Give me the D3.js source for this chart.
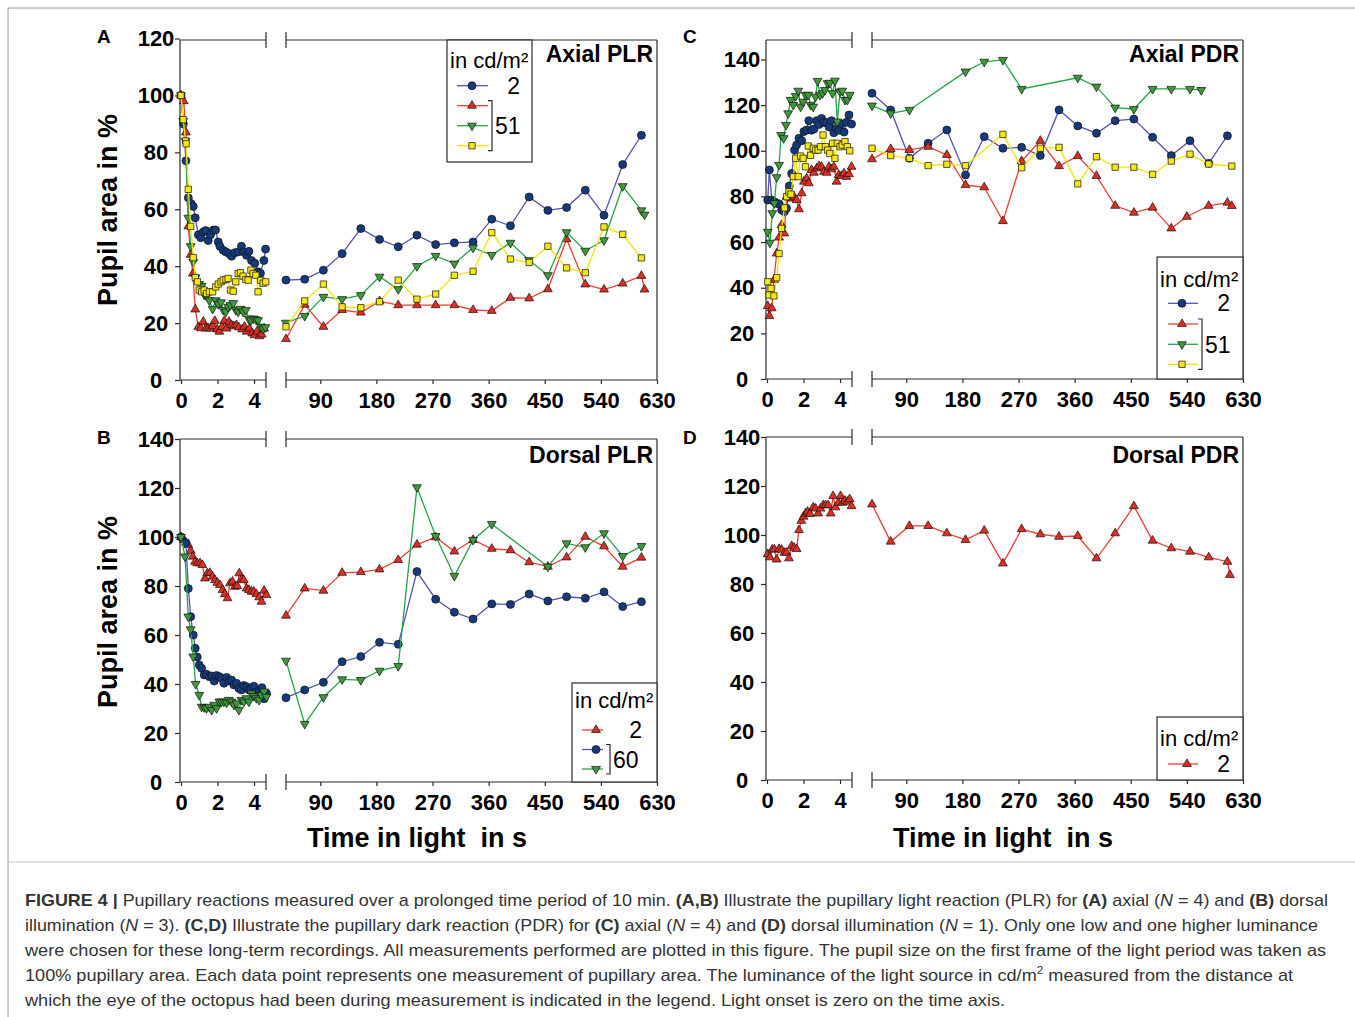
<!DOCTYPE html>
<html>
<head>
<meta charset="utf-8">
<script src="https://d3js.org/d3.v7.min.js"></script>
<style>
  body { margin: 0; background: #fff; }
  svg text { font-family: "Liberation Sans", Arial, Helvetica, sans-serif; }
</style>
</head>
<body>
<svg id="fig" width="1355" height="1017"></svg>
<script>
// ---- data: [time in s, pupil area in %] ----
// A: axial PLR
var aBlueL = [[0,100],[0.13,90],[0.27,77],[0.4,64],[0.55,62],[0.67,61],[0.78,57],[0.95,51],[1.08,50],[1.22,52],[1.35,52.5],[1.49,49],[1.62,51],[1.77,52.7],[1.89,52.7],[2.04,48.5],[2.13,47],[2.31,45.6],[2.46,45],[2.64,44.4],[2.77,43.5],[2.95,44.7],[3.13,45],[3.31,47],[3.44,45],[3.59,43.8],[3.72,45.2],[3.86,42],[4.04,41],[4.22,38],[4.35,37.5],[4.54,42],[4.63,46]];
var aRedL = [[0,100],[0.15,98],[0.27,87],[0.4,54],[0.53,44],[0.65,37.4],[0.78,24.8],[0.95,18.7],[1.08,18.2],[1.22,20.5],[1.35,18.1],[1.48,18.2],[1.6,18.1],[1.73,18.9],[1.85,20.8],[1.98,17.8],[2.1,17],[2.24,18.7],[2.37,20.8],[2.5,18.1],[2.63,20.5],[2.77,19.3],[2.9,18.9],[3.04,19.3],[3.17,18.5],[3.35,17.8],[3.48,18.7],[3.6,17],[3.75,18.1],[3.9,16.4],[4.02,15.8],[4.16,17],[4.3,15.4],[4.42,16],[4.55,18.1]];
var aGreenL = [[0,100],[0.12,91],[0.25,84],[0.4,57],[0.53,47],[0.67,41.5],[0.8,36],[1.0,33.7],[1.13,33],[1.27,30],[1.4,29.5],[1.55,28],[1.73,25],[1.9,28],[2.04,26.7],[2.19,27.3],[2.31,24.6],[2.46,24],[2.58,25.7],[2.71,26.3],[2.86,27],[3.0,24.6],[3.13,24],[3.26,25],[3.4,24],[3.55,24.6],[3.7,21.6],[3.83,21],[3.97,21.6],[4.1,21.3],[4.22,21],[4.37,18.7],[4.5,18],[4.62,18.5]];
var aYellowL = [[0,100],[0.12,91.5],[0.25,84],[0.28,83],[0.4,67],[0.53,54],[0.67,43],[0.78,36],[0.9,34.5],[1.0,31.6],[1.13,31],[1.27,31.6],[1.4,30.4],[1.55,31],[1.73,31],[1.9,32.7],[2.04,33.7],[2.19,34.5],[2.31,35.1],[2.46,35.3],[2.58,35.7],[2.71,31.6],[2.86,31.2],[3.0,34.5],[3.13,37.4],[3.26,37.7],[3.4,36.5],[3.55,35.3],[3.68,35.1],[3.83,38.6],[3.95,37.4],[4.1,36.8],[4.22,31],[4.37,35],[4.5,34],[4.64,34.5]];
var aBlueR = [[35,35.1],[65,35.4],[95,38.6],[125,44.4],[155,53.2],[185,49.4],[215,46.8],[245,50.9],[275,47.6],[305,48.2],[335,48.5],[365,56.5],[395,54.2],[425,64.3],[455,59.6],[485,60.6],[515,66.7],[545,57.9],[575,75.7],[605,86]];
var aRedR = [[35,14.4],[65,26.5],[95,18.7],[125,24.6],[155,23.7],[185,27.7],[215,26.3],[245,26.3],[275,26.3],[305,26.3],[335,24.6],[365,24.3],[395,28.9],[425,28.7],[455,31.9],[485,49.5],[515,33.6],[545,31.8],[575,33.9],[605,36.6],[610,31.8]];
var aGreenR = [[35,20.1],[65,22.5],[95,29.2],[125,28.4],[155,29.8],[185,36.3],[215,31.9],[245,40],[275,43.6],[305,40.9],[335,46.5],[365,43.9],[395,48.2],[425,42.1],[455,36.8],[485,51.9],[515,45.4],[545,49.1],[575,68.1],[605,59.6],[610,58.1]];
var aYellowR = [[35,18.7],[65,27.8],[95,33.7],[125,25.7],[155,25.4],[185,27.5],[215,35.1],[245,28.4],[275,30.2],[305,36.8],[335,38.2],[365,51.8],[395,42.5],[425,41.3],[455,47],[485,39.4],[515,37.7],[545,53.8],[575,51.2],[605,42.9]];

// B: dorsal PLR
var bRedL = [[0,100],[0.16,98.8],[0.27,97.7],[0.4,96.7],[0.53,94.4],[0.64,92],[0.77,89.9],[0.89,89.3],[1.04,89.3],[1.17,88.6],[1.31,83.1],[1.44,85.2],[1.58,85.4],[1.73,83.8],[1.86,82.4],[2.0,81.3],[2.13,80.4],[2.28,78.4],[2.4,76.7],[2.55,75],[2.68,81.1],[2.82,81.8],[2.95,79.7],[3.08,80],[3.19,85.2],[3.32,82.7],[3.44,82.4],[3.59,79],[3.72,78.4],[3.86,77.7],[3.99,77.7],[4.13,76.7],[4.28,75.4],[4.41,73.6],[4.55,78.1],[4.68,76.3]];
var bBlueL = [[0,100],[0.27,97.7],[0.4,79],[0.53,67.5],[0.67,60],[0.78,54.6],[0.89,51],[1.0,47.8],[1.13,46.4],[1.27,43.7],[1.4,44],[1.55,43],[1.68,43.3],[1.82,41.2],[1.95,43.5],[2.1,43],[2.22,42.3],[2.35,40.3],[2.5,42.7],[2.62,41.2],[2.77,41.6],[2.9,39.6],[3.04,40.3],[3.17,38.2],[3.31,37.6],[3.44,39.4],[3.59,38.9],[3.72,37.6],[3.86,38.2],[3.99,39.1],[4.13,36.9],[4.28,37.3],[4.43,38.5],[4.55,34],[4.68,36.2]];
var bGreenL = [[0,100],[0.22,92],[0.4,67.5],[0.53,62.3],[0.67,51.2],[0.8,40],[1.0,35.5],[1.13,30.7],[1.27,30.5],[1.4,30.1],[1.55,30.7],[1.68,29.4],[1.82,31.5],[1.95,30.1],[2.1,32.8],[2.22,32.8],[2.35,32.8],[2.5,32.4],[2.62,33.5],[2.77,32.8],[2.9,31.5],[3.04,32.1],[3.17,29.4],[3.31,33.5],[3.44,32.8],[3.59,34.2],[3.72,32.8],[3.86,36.2],[3.99,35.1],[4.13,34.2],[4.28,33.5],[4.41,35.5],[4.55,36.9],[4.68,34.8]];
var bRedR = [[35,67.9],[65,79],[95,78.1],[125,85.4],[155,85.7],[185,86.8],[215,90.6],[245,96.9],[275,99.9],[305,94.1],[335,98.8],[365,95.2],[395,94.6],[425,89.7],[455,87.9],[485,91.7],[515,100.1],[545,96.2],[575,87.9],[605,91.6]];
var bBlueR = [[35,34.4],[65,37.6],[95,40.7],[125,49.1],[155,51.2],[185,57],[215,56.2],[245,85.9],[275,74.6],[305,69.3],[335,66.5],[365,72.7],[395,72.5],[425,76.7],[455,73.9],[485,75.6],[515,75],[545,77.6],[575,71.6],[605,73.6]];
var bGreenR = [[35,49.5],[65,23.7],[95,34.6],[125,41.9],[155,41.6],[185,45.4],[215,47.3],[245,120.3],[275,100.4],[305,84.1],[335,98.8],[365,105.3],[455,87.9],[485,97.4],[515,95.8],[545,101.5],[575,92.2],[605,96.3]];

// C: axial PDR
var cBlueL = [[0.04,78.4],[0.13,91.6],[0.26,78.4],[0.4,77.7],[0.53,77],[0.67,76.7],[0.8,74.1],[0.95,73.3],[1.07,74.8],[1.22,84.6],[1.35,90],[1.51,100.3],[1.62,102.5],[1.75,105.5],[1.9,104.4],[2.02,108.4],[2.17,109.1],[2.29,113.2],[2.44,109],[2.57,109.5],[2.72,113.2],[2.85,111.5],[2.99,114.2],[3.12,112.4],[3.27,112.4],[3.4,110.4],[3.53,113.2],[3.66,107.9],[3.8,109.8],[3.93,109],[4.08,111.8],[4.22,108.2],[4.35,112.5],[4.49,115.7],[4.63,111.7]];
var cRedL = [[0.04,32],[0.13,27.6],[0.26,31],[0.38,43.4],[0.53,55],[0.66,62],[0.8,67.5],[0.95,63.8],[1.07,79.9],[1.22,79.2],[1.35,79.2],[1.48,79.9],[1.62,78.4],[1.75,74.4],[1.9,81.4],[2.02,86.5],[2.17,87.9],[2.29,85.8],[2.44,91.6],[2.57,90.4],[2.72,92.3],[2.85,93.3],[2.99,93],[3.12,90.8],[3.27,90.4],[3.4,93],[3.53,91.9],[3.66,93],[3.81,86.5],[3.93,89.4],[4.08,89],[4.22,90.1],[4.35,88.6],[4.49,89.8],[4.63,93]];
var cGreenL = [[0.04,64.5],[0.16,59.7],[0.29,72.6],[0.4,77],[0.53,88.4],[0.66,93.8],[0.77,106.9],[0.91,105.5],[1.04,111.3],[1.16,116.4],[1.29,122.3],[1.44,120.1],[1.57,124],[1.71,126.3],[1.84,119.3],[1.98,121.5],[2.11,124.5],[2.26,124.5],[2.39,120.1],[2.53,119.3],[2.66,123.7],[2.77,130.6],[2.9,124.5],[3.04,125.2],[3.17,126.6],[3.32,129.6],[3.44,129.8],[3.59,125.2],[3.72,130.7],[3.85,112.8],[4.0,125.9],[4.12,126.3],[4.27,122.3],[4.4,122.3],[4.53,124.5]];
var cYellowL = [[0.04,42.6],[0.11,36.8],[0.22,39.7],[0.38,36.4],[0.53,44.4],[0.66,55],[0.8,66],[0.95,75],[1.07,79.9],[1.2,82],[1.31,81],[1.44,88.7],[1.57,96.7],[1.71,88.7],[1.84,97.7],[1.98,96.7],[2.11,93],[2.26,102.1],[2.39,98],[2.53,101.1],[2.66,100.3],[2.8,100.3],[2.93,101.8],[3.07,106.9],[3.2,101.8],[3.32,100.3],[3.44,98.8],[3.59,103.3],[3.72,96.7],[3.85,103.3],[4.0,101.8],[4.12,102.5],[4.27,104],[4.4,101.8],[4.53,100]];
var cBlueR = [[35,125.2],[65,117.9],[95,96.7],[125,103.3],[155,109.1],[185,89.4],[215,106.2],[245,101.1],[275,101.5],[305,97.9],[335,117.9],[365,110.9],[395,107.7],[425,113.2],[455,113.9],[485,105.9],[515,97.9],[545,104.4],[575,94.5],[605,106.6]];
var cRedR = [[35,96.3],[65,100.8],[95,100.4],[125,101.8],[155,98.2],[185,85],[215,84],[245,69.2],[275,95.5],[305,104.4],[335,93.3],[365,97.7],[395,89],[425,75.9],[455,72.9],[485,75.1],[515,66],[540,71.1],[575,75.9],[605,77.3],[612,75.8]];
var cGreenR = [[35,119.8],[65,116.4],[95,117.9],[185,134.7],[215,139],[245,139.8],[275,127.1],[365,132],[395,128.1],[425,118.9],[455,118.3],[485,127.1],[515,127.1],[545,127.1],[563,126.6]];
var cYellowR = [[35,101.1],[65,97.9],[95,96.7],[125,93.5],[155,94.1],[185,93.5],[245,107.2],[275,92.6],[305,101.1],[335,101.5],[365,85.5],[395,97.4],[425,92.8],[455,92.8],[485,89.7],[515,95.5],[545,98.5],[575,94.2],[612,93.3]];

// D: dorsal PDR
var dRedL = [[0.04,92.2],[0.16,90.9],[0.29,94.1],[0.4,94.1],[0.53,90],[0.66,94.3],[0.8,94],[0.95,92.8],[1.07,92.8],[1.2,90.5],[1.35,95.5],[1.48,94.8],[1.62,94.3],[1.75,102],[1.88,105.8],[2.0,107.5],[2.11,108.8],[2.22,109.5],[2.35,108.6],[2.53,111.3],[2.66,110.8],[2.8,108.8],[2.93,110.8],[3.08,112.2],[3.21,112.2],[3.35,112.2],[3.49,108.8],[3.62,115.9],[3.75,111.3],[3.9,113.2],[4.03,115.9],[4.14,113.2],[4.27,114],[4.4,113.6],[4.53,114.6],[4.63,111.8]];
var dRedR = [[35,112.5],[65,97.3],[95,103.7],[125,103.7],[155,100.7],[185,98],[215,101.8],[245,88.4],[275,102.4],[305,100.3],[335,99.3],[365,99.6],[395,90.5],[425,100.7],[455,111.8],[485,97.7],[515,94.6],[545,93.2],[575,90.9],[605,89.1],[609,83.7]];

// ticks
var leftTicks = [0, 2, 4];
var rightTicks = [90, 180, 270, 360, 450, 540, 630];
var yTicksA = [0, 20, 40, 60, 80, 100, 120];
var yTicks140 = [0, 20, 40, 60, 80, 100, 120, 140];

var styles = {
  blue:   {line: '#5454b6', fill: '#153a7c', sym: 'circle'},
  red:    {line: '#f03e31', fill: '#df2d22', sym: 'up'},
  green:  {line: '#22a646', fill: '#3e9a38', sym: 'down'},
  yellow: {line: '#f4e400', fill: '#f6e70f', sym: 'square'}
};

var svg = d3.select('#fig');
var AX = '#2a2a2a';
var fmt = d3.format('d');

function drawMarker(g, s, x, y) {
  var st = styles[s];
  if (st.sym == 'circle') {
    g.append('circle').attr('cx', x).attr('cy', y).attr('r', 4)
      .attr('fill', st.fill).attr('stroke', '#111').attr('stroke-width', 0.7);
    return;
  }
  var type = st.sym == 'square' ? d3.symbolSquare : d3.symbolTriangle;
  var size = st.sym == 'square' ? 40 : 34;
  var rot = st.sym == 'down' ? 180 : 0;
  g.append('path').attr('d', d3.symbol().type(type).size(size)())
    .attr('transform', 'translate(' + x + ',' + y + ') rotate(' + rot + ')')
    .attr('fill', st.fill).attr('stroke', '#111').attr('stroke-width', 0.7);
}

function drawSeries(g, data, s, xs, ys) {
  var line = d3.line().x(function(d) { return xs(d[0]); }).y(function(d) { return ys(d[1]); });
  g.append('path').datum(data).attr('d', line).attr('fill', 'none')
    .attr('stroke', styles[s].line).attr('stroke-width', 1.3);
  var mg = g.append('g');
  data.forEach(function(d) { drawMarker(mg, s, xs(d[0]), ys(d[1])); });
}

function hline(g, x1, x2, y) {
  g.append('line').attr('x1', x1).attr('x2', x2).attr('y1', y).attr('y2', y)
    .attr('stroke', AX).attr('stroke-width', 1.2);
}
function vline(g, x, y1, y2) {
  g.append('line').attr('x1', x).attr('x2', x).attr('y1', y1).attr('y2', y2)
    .attr('stroke', AX).attr('stroke-width', 1.2);
}

function drawPanel(p) {
  var g = svg.append('g');
  var xL = d3.scaleLinear().domain([0, 4.6]).range([181 + p.dx, 265 + p.dx]);
  var xR = d3.scaleLinear().domain([35, 630]).range([286 + p.dx, 657 + p.dx]);
  var y = d3.scaleLinear().domain([0, p.yMax]).range([p.y0, p.yTop]);
  var top = p.frameTop, bot = p.y0;

  // frame with axis break
  vline(g, 180 + p.dx, top, bot);
  vline(g, 657 + p.dx, top, bot);
  hline(g, 180 + p.dx, 266 + p.dx, top);
  hline(g, 286 + p.dx, 657 + p.dx, top);
  hline(g, 180 + p.dx, 266 + p.dx, bot);
  hline(g, 286 + p.dx, 657 + p.dx, bot);
  [266, 286].forEach(function(bx) {
    vline(g, bx + p.dx, top - 8, top + 8);
    vline(g, bx + p.dx, bot - 8, bot + 8);
  });

  // y axis, labels centred in the margin
  var ya = g.append('g').attr('transform', 'translate(' + (180 + p.dx) + ',0)')
    .call(d3.axisLeft(y).tickValues(p.yTicks).tickSize(5).tickPadding(1).tickFormat(fmt));
  ya.selectAll('text').attr('text-anchor', 'middle').attr('x', -24);
  // x axes
  var xa1 = g.append('g').attr('transform', 'translate(0,' + bot + ')')
    .call(d3.axisBottom(xL).tickValues(leftTicks).tickSize(4).tickPadding(8).tickFormat(fmt));
  var xa2 = g.append('g').attr('transform', 'translate(0,' + bot + ')')
    .call(d3.axisBottom(xR).tickValues(rightTicks).tickSize(4).tickPadding(8).tickFormat(fmt));
  [ya, xa1, xa2].forEach(function(a) {
    a.select('.domain').remove();
    a.selectAll('line').attr('stroke', AX).attr('stroke-width', 1.2);
    a.selectAll('text').attr('font-size', 22).attr('font-weight', 'bold').attr('fill', '#000')
      .style('font-family', '"Liberation Sans", Arial, sans-serif');
  });

  // series
  p.series.forEach(function(s) {
    drawSeries(g, s.left, s.c, xL, y);
    drawSeries(g, s.right, s.c, xR, y);
  });

  // panel letter
  g.append('text').attr('x', 97 + p.dx).attr('y', p.letterY)
    .attr('font-size', 19).attr('font-weight', 'bold').text(p.letter);

  // legend
  var L = p.legend;
  g.append('rect').attr('x', L.x).attr('y', L.y).attr('width', L.w).attr('height', L.h)
    .attr('fill', '#fff').attr('stroke', AX).attr('stroke-width', 1.2);
  g.append('text').attr('x', L.x + 3).attr('y', L.textY).attr('font-size', 22).text('in cd/m²');
  L.items.forEach(function(it, i) {
    var ry = L.rows[i];
    g.append('line').attr('x1', L.x + L.l1).attr('x2', L.x + L.l2).attr('y1', ry).attr('y2', ry)
      .attr('stroke', styles[it].line).attr('stroke-width', 1.3);
    drawMarker(g, it, L.x + L.mk, ry);
  });
  g.append('text').attr('x', L.x + L.numX).attr('y', L.rows[0] + 8).attr('text-anchor', 'end')
    .attr('font-size', 23).text(L.single);
  if (L.group) {
    var r0 = L.rows[L.group.from] - 5, r1 = L.rows[L.group.to] + 5;
    var bx = L.x + L.brX;
    g.append('path').attr('d', 'M' + (bx - 4) + ',' + r0 + 'H' + bx + 'V' + r1 + 'H' + (bx - 4))
      .attr('fill', 'none').attr('stroke', AX).attr('stroke-width', 1.2);
    g.append('text').attr('x', bx + 3).attr('y', (r0 + r1) / 2 + 8.5)
      .attr('font-size', 23).text(L.group.label);
  }

  // panel title
  g.append('text').attr('x', 653 + p.dx).attr('y', p.titleY).attr('text-anchor', 'end')
    .attr('font-size', 23).attr('font-weight', 'bold').text(p.title);
}

var panels = [
  {letter: 'A', title: 'Axial PLR', dx: 0, y0: 380, yTop: 38.5, frameTop: 40, yMax: 120, yTicks: yTicksA, titleY: 62, letterY: 43,
   series: [{c: 'blue', left: aBlueL, right: aBlueR}, {c: 'red', left: aRedL, right: aRedR},
            {c: 'green', left: aGreenL, right: aGreenR}, {c: 'yellow', left: aYellowL, right: aYellowR}],
   legend: {x: 447, y: 40, w: 85, h: 122, textY: 68, rows: [85.7, 105.7, 125.7, 145.7], items: ['blue', 'red', 'green', 'yellow'],
            l1: 10, l2: 41, mk: 25, numX: 73, single: '2', brX: 45, group: {from: 1, to: 3, label: '51'}}},
  {letter: 'B', title: 'Dorsal PLR', dx: 0, y0: 782, yTop: 439, frameTop: 439, yMax: 140, yTicks: yTicks140, titleY: 463, letterY: 444,
   series: [{c: 'red', left: bRedL, right: bRedR}, {c: 'blue', left: bBlueL, right: bBlueR},
            {c: 'green', left: bGreenL, right: bGreenR}],
   legend: {x: 572, y: 683, w: 85, h: 99, textY: 708, rows: [730, 749.5, 769], items: ['red', 'blue', 'green'],
            l1: 10, l2: 31, mk: 24, numX: 70, single: '2', brX: 38, group: {from: 1, to: 2, label: '60'}}},
  {letter: 'C', title: 'Axial PDR', dx: 586, y0: 379, yTop: 59.5, frameTop: 40, yMax: 140, yTicks: yTicks140, titleY: 62, letterY: 43,
   series: [{c: 'blue', left: cBlueL, right: cBlueR}, {c: 'red', left: cRedL, right: cRedR},
            {c: 'green', left: cGreenL, right: cGreenR}, {c: 'yellow', left: cYellowL, right: cYellowR}],
   legend: {x: 1157, y: 257, w: 86, h: 122, textY: 287, rows: [303.3, 324, 344.3, 364.3], items: ['blue', 'red', 'green', 'yellow'],
            l1: 11, l2: 41, mk: 25, numX: 73, single: '2', brX: 45, group: {from: 1, to: 3, label: '51'}}},
  {letter: 'D', title: 'Dorsal PDR', dx: 586, y0: 780, yTop: 437, frameTop: 437, yMax: 140, yTicks: yTicks140, titleY: 463, letterY: 444,
   series: [{c: 'red', left: dRedL, right: dRedR}],
   legend: {x: 1157, y: 717, w: 86, h: 63, textY: 746, rows: [764], items: ['red'],
            l1: 11, l2: 41, mk: 30, numX: 73, single: '2'}}
];

panels.forEach(drawPanel);

// axis titles
[210, 612].forEach(function(cy) {
  svg.append('text').attr('transform', 'translate(117,' + cy + ') rotate(-90)').attr('text-anchor', 'middle')
    .attr('font-size', 27).attr('font-weight', 'bold').text('Pupil area in %');
});
[417, 1003].forEach(function(cx) {
  svg.append('text').attr('x', cx).attr('y', 847).attr('text-anchor', 'middle').style('white-space', 'pre')
    .attr('font-size', 27).attr('font-weight', 'bold').text('Time in light  in s');
});

// figure border and caption
svg.append('path').attr('d', 'M8,1017V8H1355').attr('fill', 'none').attr('stroke', '#9a9a9a').attr('stroke-width', 1);
svg.append('line').attr('x1', 8).attr('x2', 1355).attr('y1', 862).attr('y2', 862).attr('stroke', '#c8c8c8').attr('stroke-width', 1);

var caption = [
  {w: 1303, parts: [['FIGURE 4 | ', 'b'], ['Pupillary reactions measured over a prolonged time period of 10 min. '], ['(A,B)', 'b'], [' Illustrate the pupillary light reaction (PLR) for '], ['(A)', 'b'], [' axial ('], ['N', 'i'], [' = 4) and '], ['(B)', 'b'], [' dorsal']]},
  {w: 1293, parts: [['illumination ('], ['N', 'i'], [' = 3). '], ['(C,D)', 'b'], [' Illustrate the pupillary dark reaction (PDR) for '], ['(C)', 'b'], [' axial ('], ['N', 'i'], [' = 4) and '], ['(D)', 'b'], [' dorsal illumination ('], ['N', 'i'], [' = 1). Only one low and one higher luminance']]},
  {w: 1301, parts: [['were chosen for these long-term recordings. All measurements performed are plotted in this figure. The pupil size on the first frame of the light period was taken as']]},
  {w: 1268, parts: [['100% pupillary area. Each data point represents one measurement of pupillary area. The luminance of the light source in cd/m'], ['2', 'sup'], [' measured from the distance at', 'after']]},
  {w: 980, parts: [['which the eye of the octopus had been during measurement is indicated in the legend. Light onset is zero on the time axis.']]}
];
caption.forEach(function(ln, i) {
  var t = svg.append('text').attr('x', 25).attr('y', 906 + i * 25).attr('font-size', 17).attr('fill', '#333')
    .attr('textLength', ln.w).attr('lengthAdjust', 'spacingAndGlyphs').style('white-space', 'pre');
  ln.parts.forEach(function(pt) {
    var ts = t.append('tspan').text(pt[0]);
    if (pt[1] == 'b') ts.attr('font-weight', 'bold');
    if (pt[1] == 'i') ts.attr('font-style', 'italic');
    if (pt[1] == 'sup') ts.attr('font-size', 11).attr('dy', -7);
    if (pt[1] == 'after') ts.attr('dy', 7);
  });
});
</script>
</body>
</html>
